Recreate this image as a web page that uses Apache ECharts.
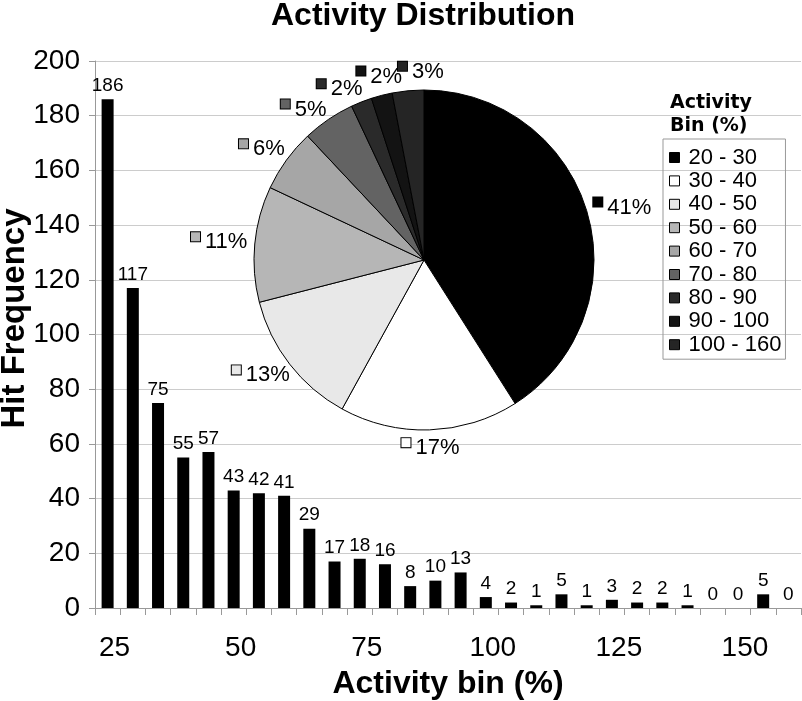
<!DOCTYPE html>
<html>
<head>
<meta charset="utf-8">
<script src="https://cdn.jsdelivr.net/npm/echarts@6/dist/echarts.min.js"></script>
<style>
html,body{margin:0;padding:0;background:#fff;}
#chart{width:802px;height:701px;}
</style>
</head>
<body>
<div id="chart"></div>
<script>
// ---- data ----
const categories = ['25','30','35','40','45','50','55','60','65','70','75','80','85','90','95','100','105','110','115','120','125','130','135','140','145','150','155','160'];
const hitFrequency = [186,117,75,55,57,43,42,41,29,17,18,16,8,10,13,4,2,1,5,1,3,2,2,1,0,0,5,0];
const pieBins = ['20 - 30','30 - 40','40 - 50','50 - 60','60 - 70','70 - 80','80 - 90','90 - 100','100 - 160'];
const piePercent = [41,17,13,11,6,5,2,2,3];
const pieColors = ['#000000','#ffffff','#e8e8e8','#b6b6b6','#a6a6a6','#636363','#2a2a2a','#131313','#252525'];

const FONT = 'Liberation Sans, Arial, sans-serif';
const PIE_CX = 424, PIE_CY = 260, PIE_R = 170;

const chart = echarts.init(document.getElementById('chart'), null, {renderer: 'canvas'});

const rich = { t: { fontSize: 22, fontFamily: FONT, color: '#000', lineHeight: 20, padding: [0,0,0,5] } };
pieColors.forEach((c, i) => {
  rich['m' + i] = { width: 9, height: 9, backgroundColor: c, borderColor: '#000', borderWidth: 1, verticalAlign: 'top' };
});

// label angles: slice mid-angles, spread apart so neighbouring labels keep a minimum separation
function labelAngles(vals, minSep) {
  const total = vals.reduce((a, b) => a + b, 0);
  let cum = 0;
  const ang = vals.map(v => { const a = (cum + v / 2) / total * 360; cum += v; return a; });
  for (let it = 0; it < 300; it++) {
    for (let i = 0; i < ang.length - 1; i++) {
      const sep = ang[i + 1] - ang[i];
      if (sep < minSep) { const d = (minSep - sep) / 2; ang[i] -= d; ang[i + 1] += d; }
    }
  }
  return ang;
}
const pieLabelAngles = labelAngles(piePercent, 12);

const option = {
  backgroundColor: '#fff',
  animation: false,
  title: [
    { text: 'Activity Distribution', left: 423, top: 0, padding: 0, textAlign: 'center',
      textStyle: { fontFamily: FONT, fontWeight: 'bold', fontSize: 32, color: '#000' } },
    { text: 'Activity\nBin (%)', left: 670, top: 92, padding: 0,
      textStyle: { fontFamily: 'DejaVu Sans, sans-serif', fontWeight: 'bold', fontSize: 19, lineHeight: 23, color: '#000' } }
  ],
  legend: {
    orient: 'vertical', left: 663, top: 139,
    padding: [7, 4, 3, 6],
    borderColor: '#999', borderWidth: 1,
    itemWidth: 10, itemHeight: 10, itemGap: 0.4,
    icon: 'rect',
    itemStyle: { borderColor: '#000', borderWidth: 1 },
    data: pieBins,
    textStyle: { fontFamily: FONT, fontSize: 22, lineHeight: 23, color: '#000', padding: [0,0,0,4] },
    selectedMode: false
  },
  grid: { left: 95, right: 1, top: 61, bottom: 93, outerBoundsMode: 'none', containLabel: false },
  xAxis: {
    type: 'category',
    data: categories,
    name: 'Activity bin (%)',
    nameLocation: 'middle',
    nameGap: 60,
    nameMoveOverlap: false,
    nameTextStyle: { fontFamily: FONT, fontWeight: 'bold', fontSize: 32, color: '#000' },
    axisLine: { show: true, lineStyle: { color: '#999', width: 1 } },
    axisTick: { show: true, interval: 0, length: 7, lineStyle: { color: '#999' } },
    axisLabel: { interval: 4, margin: 26, fontFamily: FONT, fontSize: 28, color: '#000', padding: [0,0,0,14] },
    splitLine: { show: false }
  },
  yAxis: {
    type: 'value',
    min: 0, max: 200, interval: 20,
    name: 'Hit Frequency',
    nameLocation: 'middle',
    nameGap: 64,
    nameMoveOverlap: false,
    nameTextStyle: { fontFamily: FONT, fontWeight: 'bold', fontSize: 33, color: '#000', padding: [0,0,0,32] },
    axisLine: { show: true, lineStyle: { color: '#999', width: 1 } },
    axisTick: { show: true, length: 6, lineStyle: { color: '#999' } },
    axisLabel: { margin: 15, fontFamily: FONT, fontSize: 28, color: '#000' },
    splitLine: { show: true, lineStyle: { color: '#cccccc', width: 1 } }
  },
  series: [
    {
      type: 'bar',
      data: hitFrequency,
      barWidth: 12,
      itemStyle: { color: '#000' },
      label: { show: true, position: 'top', distance: 4, fontFamily: FONT, fontSize: 19, color: '#000' },
      z: 1
    },
    {
      type: 'pie',
      center: [PIE_CX, PIE_CY],
      radius: PIE_R,
      startAngle: 90,
      clockwise: true,
      avoidLabelOverlap: false,
      z: 5,
      data: pieBins.map((name, i) => ({ name: name, value: piePercent[i], itemStyle: { color: pieColors[i] } })),
      itemStyle: { borderColor: '#000', borderWidth: 1 },
      label: {
        show: true,
        position: 'outside',
        formatter: (p) => '{m' + p.dataIndex + '|}{t|' + piePercent[p.dataIndex] + '%}',
        rich: rich
      },
      labelLine: { show: false },
      labelLayout: function (p) {
        const a = pieLabelAngles[p.dataIndex] * Math.PI / 180;
        const dx = Math.sin(a), dy = -Math.cos(a);
        const R = PIE_R + 7;
        const w = p.labelRect.width, h = p.labelRect.height;
        return {
          x: PIE_CX + R * dx + dx * w / 2,
          y: PIE_CY + R * dy + dy * h / 2,
          align: 'center',
          verticalAlign: 'middle'
        };
      },
      emphasis: { disabled: true }
    }
  ]
};
chart.setOption(option);
</script>
</body>
</html>
